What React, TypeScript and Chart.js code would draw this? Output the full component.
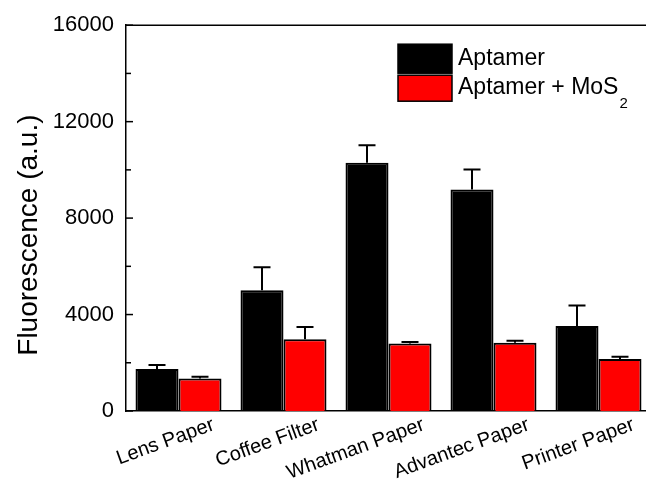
import React, { useEffect, useRef } from 'react';
import { Chart, registerables } from 'chart.js';
Chart.register(...registerables);

const categories = ['Lens Paper', 'Coffee Filter', 'Whatman Paper', 'Advantec Paper', 'Printer Paper'];
const aptamer = [1740, 5010, 10300, 9190, 3530];
const aptamerErr = [170, 950, 725, 830, 850];
const aptamerMoS2 = [1350, 2980, 2800, 2830, 2155];
const aptamerMoS2Err = [70, 500, 60, 85, 100];
const seriesLabels = ['Aptamer', 'Aptamer + MoS\u2082'];
const yAxisTitle = 'Fluorescence (a.u.)';
const FONT = "'Liberation Sans', Arial, sans-serif";

export default function App() {
  const ref = useRef<HTMLCanvasElement>(null);
  useEffect(() => {
    const errs = [aptamerErr, aptamerMoS2Err];
    const decor = {
      id: 'decor',
      afterDatasetsDraw(chart: any) {
        const ctx = chart.ctx;
        const y = chart.scales.y;
        ctx.save();
        ctx.strokeStyle = '#000';
        ctx.lineWidth = 2;
        chart.data.datasets.forEach((ds: any, di: number) => {
          const meta = chart.getDatasetMeta(di);
          meta.data.forEach((bar: any, i: number) => {
            const v = ds.data[i];
            const top = y.getPixelForValue(v + errs[di][i]);
            const base = y.getPixelForValue(v);
            ctx.beginPath();
            ctx.moveTo(bar.x, base);
            ctx.lineTo(bar.x, top);
            ctx.moveTo(bar.x - 8.5, top);
            ctx.lineTo(bar.x + 8.5, top);
            ctx.stroke();
          });
        });
        ctx.restore();
      },
      afterDraw(chart: any) {
        const ctx = chart.ctx;
        const a = chart.chartArea;
        const y = chart.scales.y;
        ctx.save();
        ctx.strokeStyle = '#000';
        ctx.lineWidth = 1.5;
        ctx.beginPath();
        ctx.moveTo(a.left, a.top);
        ctx.lineTo(a.right, a.top);
        ctx.stroke();
        y.ticks.forEach((t: any) => {
          const py = y.getPixelForValue(t.value);
          const len = t.value % 4000 === 0 ? 7 : 5;
          ctx.beginPath();
          ctx.moveTo(a.left, py);
          ctx.lineTo(a.left + len, py);
          ctx.stroke();
        });
        ctx.fillStyle = '#000';
        ctx.font = `28px ${FONT}`;
        ctx.textAlign = 'center';
        ctx.textBaseline = 'middle';
        ctx.translate(29, (a.top + a.bottom) / 2 + 17);
        ctx.rotate(-Math.PI / 2);
        ctx.fillText(yAxisTitle, 0, 0);
        ctx.restore();
        ctx.save();
        const bx = a.left + 272;
        const rows = [a.top + 19, a.top + 50];
        const hs = [29, 26];
        chart.data.datasets.forEach((ds: any, di: number) => {
          ctx.fillStyle = ds.backgroundColor;
          ctx.strokeStyle = '#000';
          ctx.lineWidth = 1.5;
          ctx.fillRect(bx, rows[di], 54, hs[di]);
          ctx.strokeRect(bx, rows[di], 54, hs[di]);
          ctx.fillStyle = '#000';
          ctx.textAlign = 'left';
          ctx.textBaseline = 'alphabetic';
          ctx.font = `23px ${FONT}`;
          const label: string = ds.label;
          const baseY = rows[di] + (di === 0 ? 21 : 18.5);
          if (label.includes('\u2082')) {
            const main = label.replace('\u2082', '');
            ctx.fillText(main, bx + 60, baseY);
            const w = ctx.measureText(main).width;
            ctx.font = `15px ${FONT}`;
            ctx.fillText('2', bx + 60 + w + 1, baseY + 14);
          } else {
            ctx.fillText(label, bx + 60, baseY);
          }
        });
        ctx.restore();
      },
    };
    const chart = new Chart(ref.current!, {
      type: 'bar',
      data: {
        labels: categories,
        datasets: [
          { label: seriesLabels[0], data: aptamer, backgroundColor: '#000000', borderColor: '#000000', borderWidth: 2 },
          { label: seriesLabels[1], data: aptamerMoS2, backgroundColor: '#ff0000', borderColor: '#000000', borderWidth: 2 },
        ],
      },
      options: {
        responsive: false,
        devicePixelRatio: 1,
        animation: false,
        layout: { padding: { top: 25, right: 9, left: 0, bottom: 0 } },
        datasets: { bar: { categoryPercentage: 0.819, barPercentage: 1.0 } },
        plugins: { legend: { display: false }, tooltip: { enabled: false } },
        scales: {
          x: {
            offset: true,
            grid: { display: false, drawTicks: false },
            border: { display: true, color: '#000', width: 1.5 },
            ticks: {
              color: '#000',
              font: { family: FONT, size: 20 },
              minRotation: 20,
              maxRotation: 20,
              labelOffset: 35,
              padding: 2,
              autoSkip: false,
            },
            afterFit: (s: any) => { s.height = 72; },
          },
          y: {
            min: 0,
            max: 16000,
            grid: { display: false, drawTicks: false },
            border: { display: true, color: '#000', width: 1.5 },
            ticks: {
              stepSize: 2000,
              color: '#000',
              font: { family: FONT, size: 22 },
              padding: 12,
              callback: (v: any) => (Number(v) % 4000 === 0 ? String(v) : ''),
            },
            afterFit: (s: any) => { s.width = 126; },
          },
        },
      },
      plugins: [decor],
    } as any);
    return () => chart.destroy();
  }, []);
  return (
    <div style={{ position: 'fixed', left: 0, top: 0, width: 646, height: 483, overflow: 'hidden', background: '#fff' }}>
      <canvas ref={ref} width={660} height={483} style={{ display: 'block', width: 660, height: 483 }} />
    </div>
  );
}
